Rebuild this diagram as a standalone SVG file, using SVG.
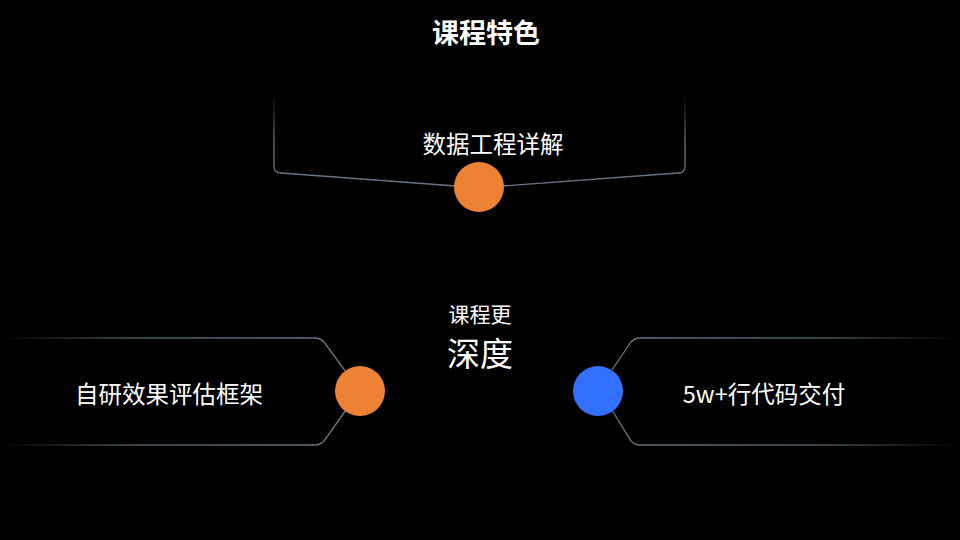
<svg xmlns="http://www.w3.org/2000/svg" width="960" height="540" viewBox="0 0 960 540">
<defs>
<linearGradient id="gv" x1="0" y1="95" x2="0" y2="140" gradientUnits="userSpaceOnUse"><stop offset="0" stop-color="#6a7580" stop-opacity="0"/><stop offset="1" stop-color="#6a7580"/></linearGradient>
<linearGradient id="gl" x1="0" y1="0" x2="330" y2="0" gradientUnits="userSpaceOnUse"><stop offset="0" stop-color="#4a5a60" stop-opacity="0"/><stop offset="0.4" stop-color="#4a5a60"/><stop offset="1" stop-color="#6a7580"/></linearGradient>
<linearGradient id="gr" x1="960" y1="0" x2="620" y2="0" gradientUnits="userSpaceOnUse"><stop offset="0" stop-color="#4a5a60" stop-opacity="0"/><stop offset="0.4" stop-color="#4a5a60"/><stop offset="1" stop-color="#6a7580"/></linearGradient>
</defs>
<style>
text{font-family:"Noto Sans CJK SC","Noto Sans",sans-serif;fill:#fff;text-anchor:middle}
.l{fill:none;stroke-width:1.3}
</style>
<rect width="960" height="540" fill="#000"/>
<text x="486" y="43" font-size="27" font-weight="bold">课程特色</text>
<g id="connectors">
<path class="l" stroke="url(#gv)" d="M274 95 V166 Q274 173 281 173 L456 186"/>
<path class="l" stroke="url(#gv)" d="M685 95 V166 Q685 173 678 173 L503 186"/>
<path class="l" stroke="url(#gl)" d="M0 338 H315 Q320 338 324 342 L346 372 M0 445 H315 Q320 445 324 441 L346 410"/>
<path class="l" stroke="url(#gr)" d="M960 338 H640 Q635 338 631 342 L612 370 M960 445 H640 Q635 445 631 441 L612 410"/>
</g>
<g id="n-top">
<text x="493" y="153" font-size="23.5">数据工程详解</text>
<circle cx="479" cy="187" r="25" fill="#EE8234"/>
</g>
<g id="n-center">
<text x="480" y="322" font-size="21">课程更</text>
<text x="480" y="366" font-size="33">深度</text>
</g>
<g id="n-left">
<text x="169" y="403" font-size="23.5">自研效果评估框架</text>
<circle cx="360" cy="391" r="25" fill="#EE8234"/>
</g>
<g id="n-right">
<text x="764" y="403" font-size="23.5">5w+行代码交付</text>
<circle cx="598" cy="391" r="25" fill="#3370FF"/>
</g>
</svg>
